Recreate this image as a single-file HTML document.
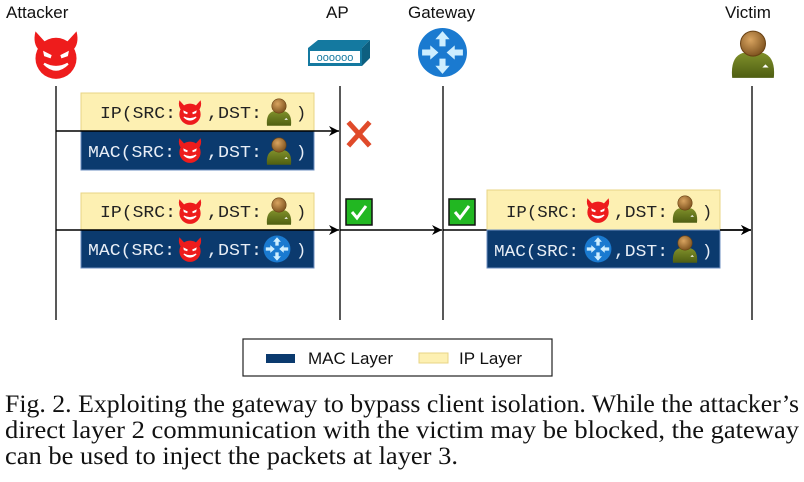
<!DOCTYPE html>
<html><head><meta charset="utf-8"><style>
html,body{margin:0;padding:0;background:#fff;width:804px;height:482px;overflow:hidden}
svg{display:block}
.lbl{font-family:"Liberation Sans",sans-serif;font-size:17px;fill:#111}
.m{font-family:"Liberation Mono",monospace;font-size:17px}
.cap{font-family:"Liberation Serif",serif;font-size:25px;fill:#111}
</style></head><body>
<svg width="804" height="482" viewBox="0 0 804 482">
<defs>
<radialGradient id="hg" cx="0.4" cy="0.35" r="0.7"><stop offset="0" stop-color="#d9a460"/><stop offset="1" stop-color="#7a4f1c"/></radialGradient>
<linearGradient id="bg" x1="0" y1="0" x2="0" y2="1"><stop offset="0" stop-color="#7f8f2a"/><stop offset="1" stop-color="#4e5e12"/></linearGradient>
<symbol id="devil" viewBox="0 0 50 50">
<path d="M6 4 Q3 16 10 22 L16 15 Z M44 4 Q47 16 40 22 L34 15 Z" fill="#ee1c1c"/>
<circle cx="25" cy="29" r="19" fill="#ee1c1c"/>
<path d="M13 22 L21 26 L20 29 L14 27 Z M37 22 L29 26 L30 29 L36 27 Z" fill="#fff"/>
<path d="M14 34 Q25 45 36 34 Q25 40 14 34 Z" fill="#fff" stroke="#fff" stroke-width="2"/>
</symbol>
<symbol id="victim" viewBox="0 0 50 50">
<path d="M5 48 Q3 28 15 24 L35 24 Q47 28 45 48 Z" fill="url(#bg)"/>
<circle cx="25" cy="15" r="12" fill="url(#hg)" stroke="#6a4214" stroke-width="1"/>
<path d="M34 38 l3 -3 l3 3 z" fill="#fff"/>
</symbol>
<symbol id="router" viewBox="0 0 50 50">
<circle cx="25" cy="25" r="24" fill="#1a7ad0"/>
<g fill="#cdeeff">
<path d="M25 4 L32 12 L28 12 L28 19 L22 19 L22 12 L18 12 Z"/>
<path d="M25 46 L32 38 L28 38 L28 31 L22 31 L22 38 L18 38 Z"/>
<path d="M21 25 L13 18 L13 22 L5 22 L5 28 L13 28 L13 32 Z"/>
<path d="M29 25 L37 18 L37 22 L45 22 L45 28 L37 28 L37 32 Z"/>
</g>
</symbol>
<marker id="ar" viewBox="0 0 10 10" refX="10" refY="5" markerWidth="10" markerHeight="10" markerUnits="userSpaceOnUse" orient="auto"><path d="M0 0 L10 5 L0 10 L3 5 Z" fill="#000"/></marker>
</defs>

<text class="lbl" x="6" y="18">Attacker</text>
<text class="lbl" x="326" y="18">AP</text>
<text class="lbl" x="408" y="18">Gateway</text>
<text class="lbl" x="725" y="18">Victim</text>

<use href="#devil" x="29" y="27" width="54" height="54"/>
<g>
<path d="M308 48 L318 40 L370 40 L362 48 Z" fill="#1479a0"/>
<path d="M362 48 L370 40 L370 58 L362 66 Z" fill="#0d5f80"/>
<rect x="308" y="48" width="54" height="18" fill="#1479a0"/>
<rect x="310" y="51" width="50" height="12" fill="#fff"/>
<text x="335" y="61" text-anchor="middle" font-family="Liberation Sans" font-size="11" fill="#1479a0">oooooo</text>
</g>
<use href="#router" x="417" y="27" width="51" height="51"/>
<use href="#victim" x="727" y="27" width="52" height="54"/>

<g stroke="#222" stroke-width="1.5">
<line x1="56" y1="86" x2="56" y2="320"/>
<line x1="340" y1="86" x2="340" y2="320"/>
<line x1="443" y1="86" x2="443" y2="320"/>
<line x1="752" y1="86" x2="752" y2="320"/>
</g>

<rect x="81" y="93" width="233" height="38" fill="#fdf0b2" stroke="#e8d486"/>
<rect x="81" y="131" width="233" height="39" fill="#0b3a6e" stroke="#6c8fc0"/>
<line x1="56" y1="131" x2="339" y2="131" stroke="#000" stroke-width="1.5" marker-end="url(#ar)"/>
<text class="m" x="100" y="118" fill="#222" textLength="76" lengthAdjust="spacingAndGlyphs">IP(SRC:</text>
<use href="#devil" x="176" y="98" width="28" height="28"/>
<text class="m" x="207" y="118" fill="#222" textLength="55" lengthAdjust="spacingAndGlyphs">,DST:</text>
<use href="#victim" x="264" y="96" width="30" height="32"/>
<text class="m" x="296" y="118" fill="#222">)</text>
<text class="m" x="88" y="157" fill="#e8eef6" textLength="87" lengthAdjust="spacingAndGlyphs">MAC(SRC:</text>
<use href="#devil" x="176" y="136" width="28" height="28"/>
<text class="m" x="207" y="157" fill="#e8eef6" textLength="55" lengthAdjust="spacingAndGlyphs">,DST:</text>
<use href="#victim" x="264" y="135" width="30" height="32"/>
<text class="m" x="296" y="157" fill="#e8eef6">)</text>
<g stroke="#e04a2a" stroke-width="5" stroke-linecap="square"><line x1="350" y1="124" x2="368" y2="144"/><line x1="368" y1="124" x2="350" y2="144"/></g>

<rect x="81" y="193" width="233" height="37" fill="#fdf0b2" stroke="#e8d486"/>
<rect x="81" y="230" width="233" height="38" fill="#0b3a6e" stroke="#6c8fc0"/>
<line x1="56" y1="230" x2="339" y2="230" stroke="#000" stroke-width="1.5" marker-end="url(#ar)"/>
<line x1="340" y1="230" x2="442" y2="230" stroke="#000" stroke-width="1.5" marker-end="url(#ar)"/>
<line x1="443" y1="230" x2="751" y2="230" stroke="#000" stroke-width="1.5" marker-end="url(#ar)"/>
<text class="m" x="100" y="217" fill="#222" textLength="76" lengthAdjust="spacingAndGlyphs">IP(SRC:</text>
<use href="#devil" x="176" y="197" width="28" height="28"/>
<text class="m" x="207" y="217" fill="#222" textLength="55" lengthAdjust="spacingAndGlyphs">,DST:</text>
<use href="#victim" x="264" y="195" width="30" height="32"/>
<text class="m" x="296" y="217" fill="#222">)</text>
<text class="m" x="88" y="255" fill="#e8eef6" textLength="87" lengthAdjust="spacingAndGlyphs">MAC(SRC:</text>
<use href="#devil" x="176" y="235" width="28" height="28"/>
<text class="m" x="207" y="255" fill="#e8eef6" textLength="55" lengthAdjust="spacingAndGlyphs">,DST:</text>
<use href="#router" x="263" y="235" width="28" height="28"/>
<text class="m" x="296" y="255" fill="#e8eef6">)</text>

<rect x="346" y="199" width="26" height="26" fill="#22b722" stroke="#111" stroke-width="1.5"/>
<path d="M352 212 L357 218 L366 206" stroke="#fff" stroke-width="3" fill="none"/>
<rect x="449" y="199" width="26" height="26" fill="#22b722" stroke="#111" stroke-width="1.5"/>
<path d="M455 212 L460 218 L469 206" stroke="#fff" stroke-width="3" fill="none"/>

<rect x="487" y="190" width="233" height="40" fill="#fdf0b2" stroke="#e8d486"/>
<rect x="487" y="230" width="233" height="38" fill="#0b3a6e" stroke="#6c8fc0"/>
<line x1="720" y1="230" x2="751" y2="230" stroke="#000" stroke-width="1.5" marker-end="url(#ar)"/>
<text class="m" x="506" y="217" fill="#222" textLength="73" lengthAdjust="spacingAndGlyphs">IP(SRC:</text>
<use href="#devil" x="584" y="196" width="28" height="28"/>
<text class="m" x="614" y="217" fill="#222" textLength="54" lengthAdjust="spacingAndGlyphs">,DST:</text>
<use href="#victim" x="670" y="193" width="30" height="32"/>
<text class="m" x="702" y="217" fill="#222">)</text>
<text class="m" x="494" y="256" fill="#e8eef6" textLength="85" lengthAdjust="spacingAndGlyphs">MAC(SRC:</text>
<use href="#router" x="584" y="235" width="28" height="28"/>
<text class="m" x="614" y="256" fill="#e8eef6" textLength="54" lengthAdjust="spacingAndGlyphs">,DST:</text>
<use href="#victim" x="670" y="233" width="30" height="32"/>
<text class="m" x="702" y="256" fill="#e8eef6">)</text>

<rect x="243" y="339" width="309" height="37" fill="#fff" stroke="#222" stroke-width="1.2"/>
<rect x="266" y="354" width="29" height="9" fill="#0b3a6e"/>
<text class="lbl" x="308" y="364">MAC Layer</text>
<rect x="419" y="353" width="29" height="10" fill="#fdf0b2" stroke="#e8d486"/>
<text class="lbl" x="459" y="364">IP Layer</text>

<text class="cap" x="5" y="412" textLength="794" lengthAdjust="spacingAndGlyphs">Fig. 2.  Exploiting the gateway to bypass client isolation. While the attacker’s</text>
<text class="cap" x="5" y="438" textLength="794" lengthAdjust="spacingAndGlyphs">direct layer 2 communication with the victim may be blocked, the gateway</text>
<text class="cap" x="5" y="464" textLength="453" lengthAdjust="spacingAndGlyphs">can be used to inject the packets at layer 3.</text>
</svg>
</body></html>
